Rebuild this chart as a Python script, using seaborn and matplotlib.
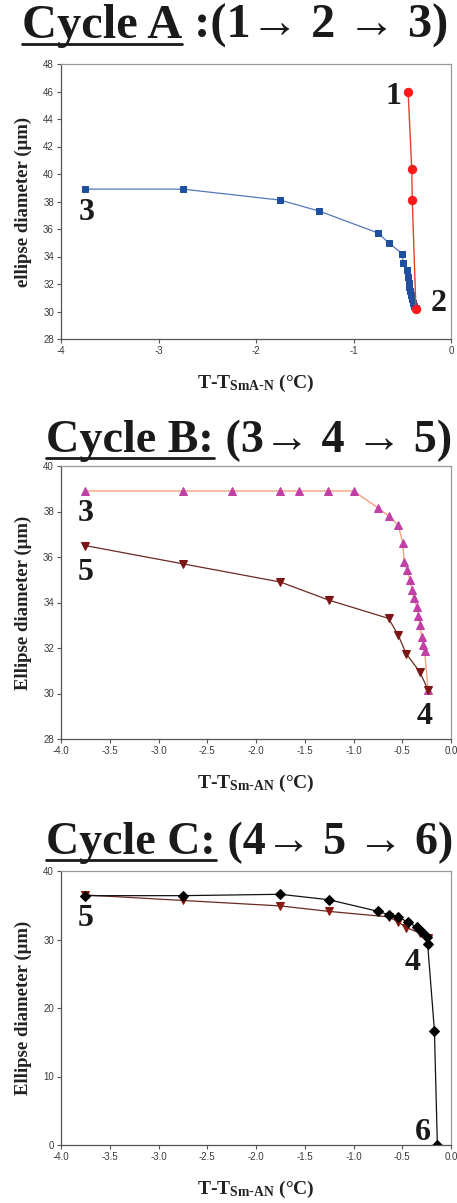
import numpy as np
import pandas as pd
import seaborn as sns
import matplotlib.pyplot as plt
from matplotlib.lines import Line2D

# ---- data ----
# Cycle A
a_red_x = [-0.44, -0.403, -0.397, -0.36]
a_red_y = [46.0, 40.4, 38.1, 30.2]
a_blue_x = [-3.75, -2.75, -1.75, -1.35, -0.745, -0.64, -0.50, -0.49, -0.455,
            -0.44, -0.435, -0.43, -0.42, -0.41, -0.40, -0.39, -0.375, -0.36]
a_blue_y = [38.9, 38.9, 38.1, 37.3, 35.7, 35.0, 34.2, 33.5, 33.0,
            32.5, 32.1, 31.8, 31.5, 31.2, 30.9, 30.6, 30.4, 30.25]

# Cycle B
b_up_x = [-3.75, -2.75, -2.25, -1.75, -1.56, -1.26, -1.0, -0.745, -0.64, -0.54,
          -0.495, -0.48, -0.455, -0.42, -0.40, -0.38, -0.35, -0.335, -0.32,
          -0.30, -0.285, -0.27, -0.235]
b_up_y = [38.9, 38.9, 38.9, 38.9, 38.9, 38.9, 38.9, 38.15, 37.8, 37.4,
          36.6, 35.8, 35.45, 35.0, 34.55, 34.2, 33.8, 33.4, 33.0,
          32.5, 32.15, 31.85, 30.15]
b_down_x = [-3.75, -2.75, -1.75, -1.25, -0.64, -0.54, -0.46, -0.32, -0.235]
b_down_y = [36.5, 35.7, 34.9, 34.1, 33.3, 32.55, 31.75, 30.95, 30.15]

# Cycle C
c_dia_x = [-3.75, -2.75, -1.75, -1.25, -0.745, -0.64, -0.54, -0.44, -0.35,
           -0.30, -0.25, -0.24, -0.17, -0.14]
c_dia_y = [36.4, 36.4, 36.6, 35.8, 34.1, 33.6, 33.3, 32.5, 31.8,
           31.1, 30.35, 29.4, 16.7, 0.05]

W, H = 457, 1203
SERIF = ['Liberation Serif', 'DejaVu Serif']
SANS = ['Liberation Sans', 'DejaVu Sans']

sns.set_style("ticks")
plt.rcParams['font.family'] = SERIF
plt.rcParams['mathtext.default'] = 'regular'

fig = plt.figure(figsize=(W / 100, H / 100), dpi=100)


def make_axes(left, top, right, bottom):
    ax = fig.add_axes([left / W, 1 - bottom / H, (right - left) / W, (bottom - top) / H])
    for side in ['top', 'right']:
        ax.spines[side].set_color('#9a9a9a')
        ax.spines[side].set_linewidth(0.9)
    for side in ['left', 'bottom']:
        ax.spines[side].set_color('#555555')
        ax.spines[side].set_linewidth(0.9)
    ax.tick_params(direction='out', length=3, width=0.8, color='#555555',
                   labelsize=7, labelcolor='#3a3a3a', pad=2)
    return ax


def style_ticks(ax):
    for lab in ax.get_xticklabels() + ax.get_yticklabels():
        lab.set_family(SANS)


def labels(ax, sub, ytext):
    ax.set_xlabel("T-T$_{\\mathregular{" + sub + "}}$ (°C)", fontsize=14,
                  fontweight='bold', family=SERIF, color='#222222')
    ax.xaxis.set_label_coords(0.5, -0.125)
    ax.set_ylabel(ytext, fontsize=13.5, fontweight='bold', family=SERIF,
                  color='#222222')
    ax.yaxis.set_label_coords(-0.075, 0.5)


def num(ax, x, y, s):
    ax.text(x, y, s, fontsize=23, fontweight='bold', family=SERIF,
            ha='center', va='center', color='#1a1a1a')


def title(x0_px, x1_px, base_px, under, rest):
    r = fig.canvas.get_renderer()
    kw = dict(fontweight='bold', family=SERIF, ha='left', va='baseline', color='#1a1a1a')
    y = 1 - base_px / H
    t1 = fig.text(x0_px / W, y, under, fontsize=30, **kw)
    t2 = fig.text(0, y, rest, fontsize=30, **kw)
    w = t1.get_window_extent(renderer=r).width + t2.get_window_extent(renderer=r).width
    size = 30 * (x1_px - x0_px) / w
    t1.set_fontsize(size)
    t2.set_fontsize(size)
    bb = t1.get_window_extent(renderer=r)
    t2.set_x(bb.x1 / W)
    yl = 1 - (base_px + 6) / H
    fig.add_artist(Line2D([bb.x0 / W, bb.x1 / W], [yl, yl], color='#1a1a1a',
                          linewidth=2.0, transform=fig.transFigure))


# ---- Cycle A ----
ax = make_axes(61, 64, 451, 339)
sns.lineplot(x=a_blue_x, y=a_blue_y, ax=ax, sort=False, estimator=None,
             color='#5577bb', linewidth=0.9, marker='s', markersize=5,
             markerfacecolor='#1f4f9f', markeredgecolor='#1f4f9f')
sns.lineplot(x=a_red_x, y=a_red_y, ax=ax, sort=False, estimator=None,
             color='#e8402a', linewidth=1.0, marker='o', markersize=6,
             markerfacecolor='#ff1a1a', markeredgecolor='#ff1a1a')
ax.set_xlim(-4, 0)
ax.set_ylim(28, 48)
ax.set_xticks(np.arange(-4, 0.5, 1))
ax.set_xticklabels([f"{v:g}" for v in np.arange(-4, 0.5, 1)])
ax.set_yticks(np.arange(28, 49, 2))
style_ticks(ax)
labels(ax, "SmA\\text{-}N", "ellipse diameter (μm)")
num(ax, -0.595, 45.6, "1")
num(ax, -0.13, 30.6, "2")
num(ax, -3.74, 37.2, "3")

# ---- Cycle B ----
ax = make_axes(61, 466, 451, 739)
sns.lineplot(x=b_up_x, y=b_up_y, ax=ax, sort=False, estimator=None,
             color='#f4a27c', linewidth=1.0, marker='^', markersize=5.5,
             markerfacecolor='#c040a6', markeredgecolor='#c040a6')
sns.lineplot(x=b_down_x, y=b_down_y, ax=ax, sort=False, estimator=None,
             color='#6b2a20', linewidth=0.9, marker='v', markersize=5.5,
             markerfacecolor='#7d1414', markeredgecolor='#7d1414')
ax.set_xlim(-4, 0)
ax.set_ylim(28, 40)
ax.set_xticks(np.arange(-4, 0.25, 0.5))
ax.set_xticklabels([f"{v:.1f}" for v in np.arange(-4, 0.25, 0.5)])
ax.set_yticks(np.arange(28, 41, 2))
style_ticks(ax)
labels(ax, "Sm\\text{-}AN", "Ellipse diameter (μm)")
num(ax, -3.75, 37.9, "3")
num(ax, -3.75, 35.3, "5")
num(ax, -0.27, 28.97, "4")

# ---- Cycle C ----
ax = make_axes(61, 871, 451, 1145)
sns.lineplot(x=b_down_x, y=b_down_y, ax=ax, sort=False, estimator=None,
             color='#6b2a20', linewidth=0.9, marker='v', markersize=5.5,
             markerfacecolor='#8b1a10', markeredgecolor='#8b1a10')
sns.lineplot(x=c_dia_x, y=c_dia_y, ax=ax, sort=False, estimator=None,
             color='#111111', linewidth=0.9, marker='D', markersize=5.5,
             markerfacecolor='#000000', markeredgecolor='#000000')
ax.set_xlim(-4, 0)
ax.set_ylim(0, 40)
ax.set_xticks(np.arange(-4, 0.25, 0.5))
ax.set_xticklabels([f"{v:.1f}" for v in np.arange(-4, 0.25, 0.5)])
ax.set_yticks(np.arange(0, 41, 10))
style_ticks(ax)
labels(ax, "Sm\\text{-}AN", "Ellipse diameter (μm)")
num(ax, -3.75, 33.0, "5")
num(ax, -0.39, 26.7, "4")
num(ax, -0.29, 1.8, "6")

# ---- titles ----
title(22, 447, 38, "Cycle A", " :(1→ 2 → 3)")
title(46, 451, 452, "Cycle B:", " (3→ 4 → 5)")
title(46, 451, 854, "Cycle C:", " (4→ 5 → 6)")

fig.savefig("out.png", dpi=100)
